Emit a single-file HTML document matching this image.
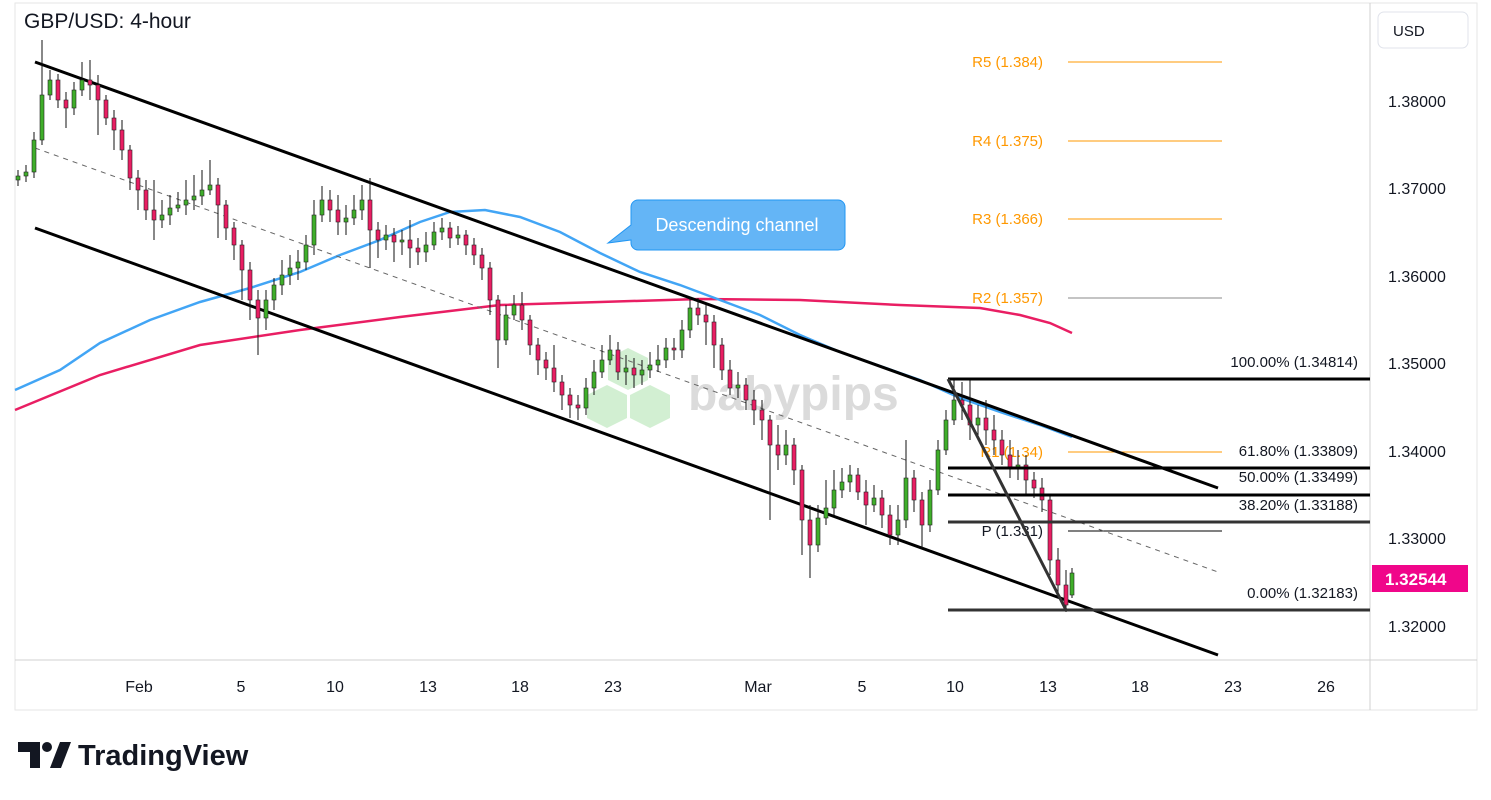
<!DOCTYPE html>
<html><head><meta charset="utf-8"><style>
body{margin:0;background:#fff;font-family:"Liberation Sans",sans-serif;}
svg{display:block}
.g rect{fill:#3fae2a;stroke:#222;stroke-width:0.6}
.p rect{fill:#e91e63;stroke:#222;stroke-width:0.6}
</style></head><body>
<svg width="1491" height="800" viewBox="0 0 1491 800" font-family="Liberation Sans, sans-serif">
<rect x="15" y="3" width="1462" height="707" fill="#fff" stroke="#e6e6e6"/>
<line x1="15" y1="660" x2="1477" y2="660" stroke="#d0d0d0"/>
<line x1="1370" y1="3" x2="1370" y2="710" stroke="#d0d0d0"/>
<text x="24" y="28" font-size="21" fill="#131722">GBP/USD: 4-hour</text>
<rect x="1378" y="12" width="90" height="36" rx="6" fill="#fff" stroke="#e0e3eb"/>
<text x="1393" y="36" font-size="15" fill="#131722">USD</text>
<g font-size="16" fill="#131722">
<text x="1388" y="107">1.38000</text><text x="1388" y="194">1.37000</text><text x="1388" y="282">1.36000</text>
<text x="1388" y="369">1.35000</text><text x="1388" y="457">1.34000</text><text x="1388" y="544">1.33000</text><text x="1388" y="632">1.32000</text>
</g>
<rect x="1372" y="565" width="96" height="27" fill="#f0068a"/>
<text x="1385" y="585" font-size="17" font-weight="bold" fill="#fff">1.32544</text>
<g font-size="16" fill="#131722" text-anchor="middle">
<text x="139" y="692">Feb</text><text x="241" y="692">5</text><text x="335" y="692">10</text><text x="428" y="692">13</text><text x="520" y="692">18</text><text x="613" y="692">23</text><text x="758" y="692">Mar</text><text x="862" y="692">5</text><text x="955" y="692">10</text><text x="1048" y="692">13</text><text x="1140" y="692">18</text><text x="1233" y="692">23</text><text x="1326" y="692">26</text>
</g>
<g opacity="0.35">
<polygon points="608,358 628,348 648,358 648,380 628,390 608,380" fill="#7fd27f"/>
<polygon points="587,395 607,385 627,395 627,418 607,428 587,418" fill="#7fd27f"/>
<polygon points="630,395 650,385 670,395 670,418 650,428 630,418" fill="#7fd27f"/>
<text x="688" y="410" font-size="48" font-weight="bold" fill="#999">babypips</text>
</g>
<g stroke="#ff9800" stroke-width="1">
<line x1="1068" y1="62" x2="1222" y2="62"/><line x1="1068" y1="141" x2="1222" y2="141"/><line x1="1068" y1="219" x2="1222" y2="219"/>
<line x1="1068" y1="452" x2="1222" y2="452"/>
</g>
<line x1="1068" y1="298" x2="1222" y2="298" stroke="#888"/>
<line x1="1068" y1="531" x2="1222" y2="531" stroke="#000"/>
<g font-size="15" fill="#ff9800" text-anchor="end">
<text x="1043" y="67">R5 (1.384)</text><text x="1043" y="146">R4 (1.375)</text><text x="1043" y="224">R3 (1.366)</text><text x="1043" y="303">R2 (1.357)</text><text x="1043" y="457">R1 (1.34)</text>
</g>
<text x="1043" y="536" font-size="15" fill="#131722" text-anchor="end">P (1.331)</text>
<polyline fill="none" stroke="#e91e63" stroke-width="2.5" points="15,410 100,375 200,345 300,330 400,317 500,305 600,302 700,299 800,300 900,305 980,308 1020,315 1050,323 1072,333"/>
<polyline fill="none" stroke="#42a5f5" stroke-width="2.5" points="15,390 60,370 100,343 150,320 200,302 250,288 300,272 340,255 380,240 420,222 450,212 485,210 520,217 560,232 600,253 640,272 680,285 720,300 760,315 800,335 840,352 880,366 920,380 960,398 1000,412 1040,425 1072,437"/>
<line x1="35" y1="62" x2="1218" y2="488" stroke="#000" stroke-width="3"/>
<line x1="35" y1="228" x2="1218" y2="655" stroke="#000" stroke-width="3"/>
<line x1="35" y1="148" x2="1218" y2="572" stroke="#666" stroke-width="1" stroke-dasharray="5,5"/>
<path stroke="#111" stroke-width="1" fill="none" d="M18 170V186M26 165V182M34 132V178M42 40V145M50 70V100M58 74V108M66 92V128M74 82V115M82 62V96M90 60V100M98 75V135M106 95V125M114 110V150M122 120V160M130 145V190M138 170V210M146 180V220M154 180V240M162 200V228M170 195V225M178 192V212M186 180V215M194 175V210M202 170V205M210 160V195M218 178V238M226 200V240M234 222V260M242 240V300M250 262V320M258 290V355M266 290V330M274 278V310M282 260V295M290 255V285M298 250V280M306 235V270M314 200V255M322 186V222M330 190V222M338 195V235M346 205V235M354 195V225M362 185V220M370 178V268M378 222V258M386 225V250M394 228V262M402 230V255M410 220V268M418 238V265M426 232V262M434 222V250M442 218V240M450 222V248M458 226V245M466 230V255M474 238V265M482 248V280M490 262V315M498 295V368M506 305V345M514 295V320M522 292V330M530 315V355M538 338V375M546 352V380M554 345V392M562 375V410M570 388V418M578 395V420M586 378V415M594 360V395M602 345V378M610 335V365M618 342V380M626 355V385M634 358V388M642 360V385M650 352V378M658 345V372M666 338V368M674 338V360M682 320V358M690 298V338M698 298V325M706 305V345M714 315V368M722 338V380M730 360V395M738 372V398M746 378V410M754 390V425M762 400V440M770 415V520M778 425V470M786 430V465M794 438V485M802 465V555M810 505V578M818 505V552M826 480V525M834 470V515M842 468V498M850 465V492M858 468V500M866 480V525M874 485V512M882 490V528M890 505V545M898 505V545M906 440V528M914 470V512M922 492V548M930 480V532M938 440V495M946 410V455M954 380V425M962 382V420M970 380V440M978 405V435M986 400V445M994 415V455M1002 430V465M1010 440V478M1018 450V480M1026 455V495M1034 472V498M1042 478V512M1050 495V575M1058 548V595M1066 570V612M1072 568V598"/>
<g class="g">
<rect x="16" y="176" width="4" height="4"/><rect x="24" y="172" width="4" height="4"/><rect x="32" y="140" width="4" height="32"/><rect x="40" y="95" width="4" height="45"/><rect x="48" y="80" width="4" height="15"/><rect x="72" y="90" width="4" height="18"/><rect x="80" y="80" width="4" height="10"/><rect x="160" y="215" width="4" height="5"/><rect x="168" y="208" width="4" height="7"/><rect x="176" y="205" width="4" height="3"/><rect x="184" y="200" width="4" height="5"/><rect x="192" y="196" width="4" height="4"/><rect x="200" y="190" width="4" height="6"/><rect x="208" y="185" width="4" height="5"/><rect x="264" y="300" width="4" height="18"/><rect x="272" y="285" width="4" height="15"/><rect x="280" y="275" width="4" height="10"/><rect x="288" y="268" width="4" height="7"/><rect x="296" y="262" width="4" height="6"/><rect x="304" y="245" width="4" height="17"/><rect x="312" y="215" width="4" height="30"/><rect x="320" y="200" width="4" height="15"/><rect x="344" y="218" width="4" height="4"/><rect x="352" y="210" width="4" height="8"/><rect x="360" y="200" width="4" height="10"/><rect x="384" y="235" width="4" height="5"/><rect x="400" y="240" width="4" height="2"/><rect x="424" y="245" width="4" height="7"/><rect x="432" y="232" width="4" height="13"/><rect x="440" y="228" width="4" height="4"/><rect x="456" y="235" width="4" height="3"/><rect x="504" y="315" width="4" height="25"/><rect x="512" y="305" width="4" height="10"/><rect x="584" y="388" width="4" height="20"/><rect x="592" y="372" width="4" height="16"/><rect x="600" y="360" width="4" height="12"/><rect x="608" y="350" width="4" height="10"/><rect x="624" y="368" width="4" height="4"/><rect x="640" y="370" width="4" height="5"/><rect x="648" y="365" width="4" height="5"/><rect x="656" y="360" width="4" height="5"/><rect x="664" y="348" width="4" height="12"/><rect x="680" y="330" width="4" height="20"/><rect x="688" y="308" width="4" height="22"/><rect x="736" y="385" width="4" height="3"/><rect x="784" y="445" width="4" height="10"/><rect x="816" y="518" width="4" height="27"/><rect x="824" y="508" width="4" height="10"/><rect x="832" y="490" width="4" height="18"/><rect x="840" y="482" width="4" height="8"/><rect x="848" y="475" width="4" height="7"/><rect x="872" y="498" width="4" height="7"/><rect x="896" y="520" width="4" height="15"/><rect x="904" y="478" width="4" height="42"/><rect x="928" y="490" width="4" height="35"/><rect x="936" y="450" width="4" height="40"/><rect x="944" y="420" width="4" height="30"/><rect x="952" y="400" width="4" height="20"/><rect x="976" y="418" width="4" height="7"/><rect x="1016" y="465" width="4" height="3"/><rect x="1070" y="573" width="4" height="22"/>
</g>
<g class="p">
<rect x="56" y="80" width="4" height="20"/><rect x="64" y="100" width="4" height="8"/><rect x="88" y="80" width="4" height="5"/><rect x="96" y="85" width="4" height="15"/><rect x="104" y="100" width="4" height="18"/><rect x="112" y="118" width="4" height="12"/><rect x="120" y="130" width="4" height="20"/><rect x="128" y="150" width="4" height="28"/><rect x="136" y="178" width="4" height="12"/><rect x="144" y="190" width="4" height="20"/><rect x="152" y="210" width="4" height="10"/><rect x="216" y="185" width="4" height="20"/><rect x="224" y="205" width="4" height="23"/><rect x="232" y="228" width="4" height="17"/><rect x="240" y="245" width="4" height="25"/><rect x="248" y="270" width="4" height="30"/><rect x="256" y="300" width="4" height="18"/><rect x="328" y="200" width="4" height="10"/><rect x="336" y="210" width="4" height="12"/><rect x="368" y="200" width="4" height="30"/><rect x="376" y="230" width="4" height="10"/><rect x="392" y="235" width="4" height="7"/><rect x="408" y="240" width="4" height="8"/><rect x="416" y="248" width="4" height="4"/><rect x="448" y="228" width="4" height="10"/><rect x="464" y="235" width="4" height="10"/><rect x="472" y="245" width="4" height="10"/><rect x="480" y="255" width="4" height="13"/><rect x="488" y="268" width="4" height="32"/><rect x="496" y="300" width="4" height="40"/><rect x="520" y="305" width="4" height="15"/><rect x="528" y="320" width="4" height="25"/><rect x="536" y="345" width="4" height="15"/><rect x="544" y="360" width="4" height="8"/><rect x="552" y="368" width="4" height="14"/><rect x="560" y="382" width="4" height="13"/><rect x="568" y="395" width="4" height="10"/><rect x="576" y="405" width="4" height="3"/><rect x="616" y="350" width="4" height="22"/><rect x="632" y="368" width="4" height="7"/><rect x="672" y="348" width="4" height="2"/><rect x="696" y="308" width="4" height="7"/><rect x="704" y="315" width="4" height="7"/><rect x="712" y="322" width="4" height="23"/><rect x="720" y="345" width="4" height="25"/><rect x="728" y="370" width="4" height="18"/><rect x="744" y="385" width="4" height="15"/><rect x="752" y="400" width="4" height="10"/><rect x="760" y="410" width="4" height="10"/><rect x="768" y="420" width="4" height="25"/><rect x="776" y="445" width="4" height="10"/><rect x="792" y="445" width="4" height="25"/><rect x="800" y="470" width="4" height="50"/><rect x="808" y="520" width="4" height="25"/><rect x="856" y="475" width="4" height="17"/><rect x="864" y="492" width="4" height="13"/><rect x="880" y="498" width="4" height="17"/><rect x="888" y="515" width="4" height="20"/><rect x="912" y="478" width="4" height="22"/><rect x="920" y="500" width="4" height="25"/><rect x="960" y="400" width="4" height="5"/><rect x="968" y="405" width="4" height="20"/><rect x="984" y="418" width="4" height="12"/><rect x="992" y="430" width="4" height="10"/><rect x="1000" y="440" width="4" height="15"/><rect x="1008" y="455" width="4" height="13"/><rect x="1024" y="465" width="4" height="15"/><rect x="1032" y="480" width="4" height="8"/><rect x="1040" y="488" width="4" height="12"/><rect x="1048" y="500" width="4" height="60"/><rect x="1056" y="560" width="4" height="25"/><rect x="1064" y="585" width="4" height="20"/>
</g>
<g stroke="#000" stroke-width="3">
<line x1="948" y1="379" x2="1370" y2="379"/><line x1="948" y1="468" x2="1370" y2="468"/>
<line x1="948" y1="495" x2="1370" y2="495"/><line x1="948" y1="522" x2="1370" y2="522" stroke="#333"/>
<line x1="948" y1="610" x2="1370" y2="610" stroke="#333"/>
</g>
<line x1="948" y1="379" x2="1066" y2="610" stroke="#333" stroke-width="3"/>
<g font-size="15" fill="#131722" text-anchor="end">
<text x="1358" y="367">100.00% (1.34814)</text><text x="1358" y="456">61.80% (1.33809)</text><text x="1358" y="482">50.00% (1.33499)</text><text x="1358" y="510">38.20% (1.33188)</text><text x="1358" y="598">0.00% (1.32183)</text>
</g>
<path d="M638,200 H838 a7,7 0 0 1 7,7 V243 a7,7 0 0 1 -7,7 H638 a7,7 0 0 1 -7,-7 V240 L608,243 L631,225 V207 a7,7 0 0 1 7,-7Z" fill="#64b5f6" stroke="#2196f3"/>
<text x="737" y="231" font-size="18" fill="#fff" text-anchor="middle">Descending channel</text>
<g fill="#131722">
<path d="M18,742 H40 V768 H30 V752 H18Z"/><circle cx="47" cy="747" r="5"/><path d="M50,768 L60,742 H71 L61,768Z"/>
</g>
<text x="78" y="765" font-size="29" font-weight="bold" fill="#131722">TradingView</text>
</svg>
</body></html>
